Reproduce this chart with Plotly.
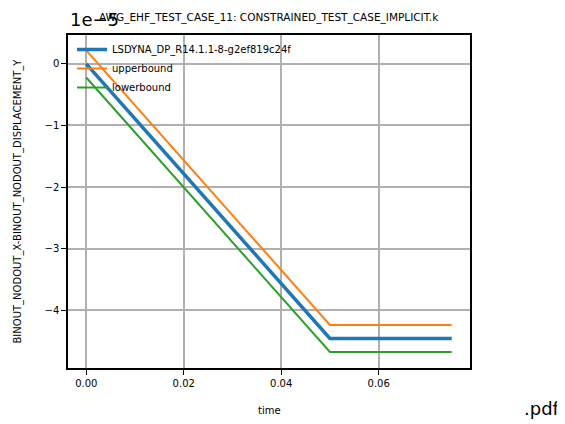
import plotly.graph_objects as go

# values in units of 1e-5
time = [0.0, 0.05, 0.075]
lsdyna = [0.0, -4.46, -4.46]
upperbound = [0.22, -4.24, -4.24]
lowerbound = [-0.22, -4.68, -4.68]

x_ticks = [0.00, 0.02, 0.04, 0.06]
x_ticktext = ["0.00", "0.02", "0.04", "0.06"]
y_ticks = [0, -1, -2, -3, -4]
y_ticktext = ["0", "\u22121", "\u22122", "\u22123", "\u22124"]

FONT = "DejaVu Sans"

fig = go.Figure()
fig.add_trace(go.Scatter(x=time, y=lsdyna, mode="lines", name="LSDYNA_DP_R14.1.1-8-g2ef819c24f",
                         line=dict(color="#1f77b4", width=3.5)))
fig.add_trace(go.Scatter(x=time, y=upperbound, mode="lines", name="upperbound",
                         line=dict(color="#ff7f0e", width=2)))
fig.add_trace(go.Scatter(x=time, y=lowerbound, mode="lines", name="lowerbound",
                         line=dict(color="#2ca02c", width=2)))

axis_style = dict(
    showline=True, linecolor="black", linewidth=1.5, mirror=True,
    showgrid=True, gridcolor="#b0b0b0", gridwidth=1.5,
    ticks="outside", ticklen=5, tickwidth=1.2, tickcolor="black",
    zeroline=False, tickfont=dict(family=FONT, size=10, color="black"),
)

# the page body adds an 8px margin, so the figure is a bit smaller than the window
fig.update_layout(
    width=557, height=416,
    margin=dict(l=60, r=95, t=27, b=56),
    paper_bgcolor="white", plot_bgcolor="white",
    font=dict(family=FONT, color="black"),
    showlegend=True,
    legend=dict(x=0.01, y=1.0, xanchor="left", yanchor="top",
                bgcolor="rgba(0,0,0,0)", font=dict(family=FONT, size=10),
                traceorder="normal", itemwidth=30, tracegroupgap=0),
    xaxis=dict(range=[-0.00375, 0.07875], tickvals=x_ticks, ticktext=x_ticktext, **axis_style),
    yaxis=dict(range=[-4.94, 0.47], tickvals=y_ticks, ticktext=y_ticktext, **axis_style),
    annotations=[
        dict(text="AWG_EHF_TEST_CASE_11: CONSTRAINED_TEST_CASE_IMPLICIT.k", xref="paper", yref="paper",
             x=0.5, y=1.0, yshift=18, xanchor="center", yanchor="middle", showarrow=False,
             font=dict(family=FONT, size=10.5)),
        dict(text="1e\u22125", xref="paper", yref="paper", x=0.0, y=1.0, yshift=16,
             xanchor="left", yanchor="middle", showarrow=False, font=dict(family=FONT, size=18)),
        dict(text="time", xref="paper", yref="paper", x=0.5, y=0.0, yshift=-42,
             xanchor="center", yanchor="middle", showarrow=False, font=dict(family=FONT, size=10)),
        dict(text="BINOUT_NODOUT_X-BINOUT_NODOUT_DISPLACEMENT_Y", xref="paper", yref="paper",
             x=0.0, y=0.5, xshift=-51, xanchor="center", yanchor="middle", textangle=-90,
             showarrow=False, font=dict(family=FONT, size=10)),
        dict(text=".pdf", xref="paper", yref="paper", x=1.0, y=0.0, xshift=92, yshift=-40,
             xanchor="right", yanchor="middle", showarrow=False, font=dict(family=FONT, size=18)),
    ],
)

fig.write_html("out.html")
